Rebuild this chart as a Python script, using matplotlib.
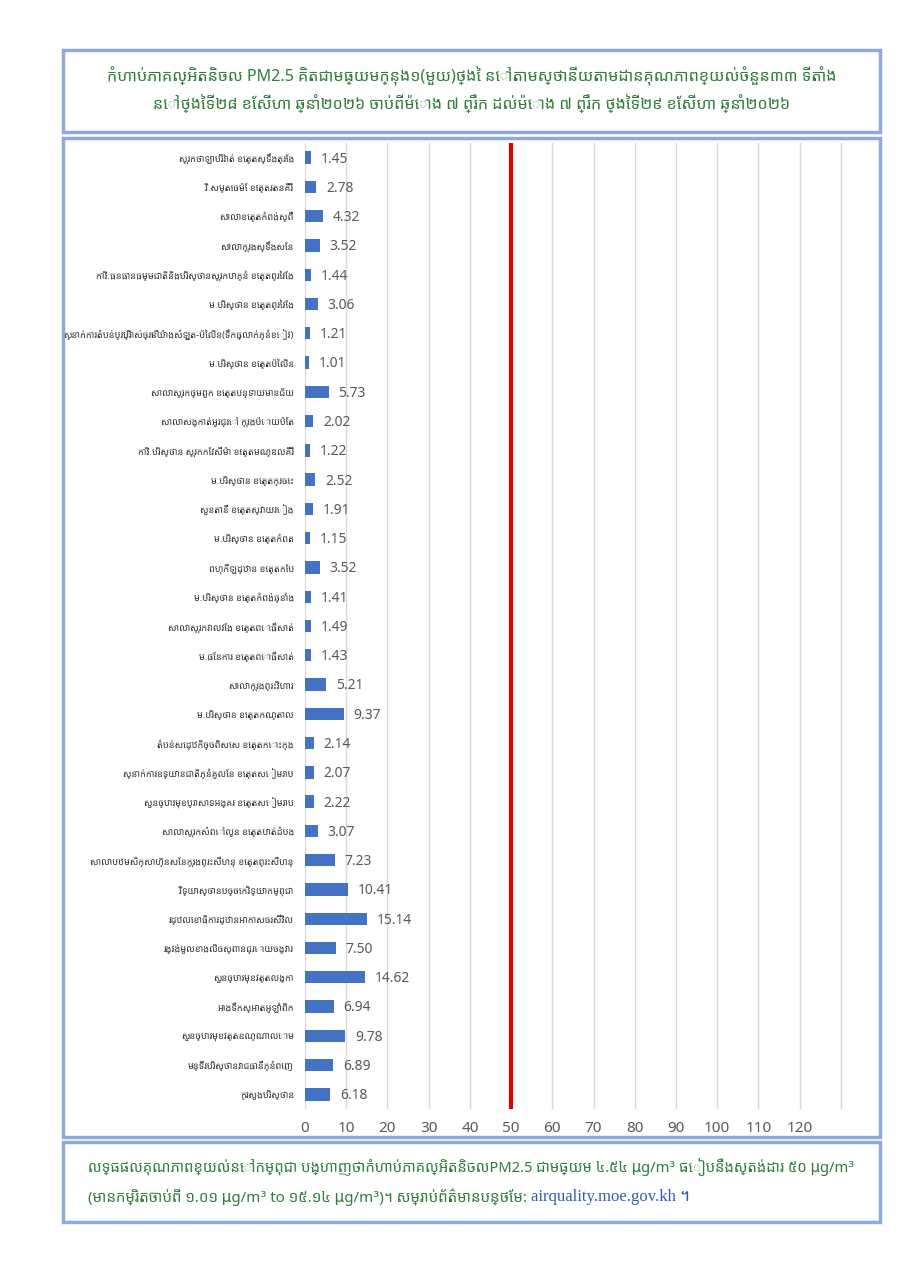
import numpy as np
import matplotlib
matplotlib.use("Agg")
import matplotlib.pyplot as plt
from matplotlib.patches import Rectangle

# fontes: Khmer primeiro, depois DejaVu para o resto
plt.rcParams["font.family"] = ["Noto Sans Khmer", "Khmer OS", "Khmer OS System",
                               "Hanuman", "Battambang", "DejaVu Sans"]

# ---- dados (de cima para baixo) ----
estacoes = [
    "ស្រុកថាឡាបរិវ៉ាត់ ខេត្តស្ទឹងត្រែង",
    "វិ.សម្តេចម៉ែ ខេត្តរតនគិរី",
    "សាលាខេត្តកំពង់ស្ពឺ",
    "សាលាក្រុងស្ទឹងសែន",
    "កាវិ.ធនធានធម្មជាតិនិងបរិស្ថានស្រុកបាភ្នំ ខេត្តព្រៃវែង",
    "ម.បរិស្ថាន ខេត្តព្រៃវែង",
    "ស្នាក់ការតំបន់ប្រើប្រាស់ច្រើនយ៉ាងសំឡូត-ប៉ៃលិន(ទឹកធ្លាក់ភ្នំខៀវ)",
    "ម.បរិស្ថាន ខេត្តប៉ៃលិន",
    "សាលាស្រុកថ្មពួក ខេត្តបន្ទាយមានជ័យ",
    "សាលាសង្កាត់អូរជ្រៅ ក្រុងប៉ោយប៉ែត",
    "កាវិ.បរិស្ថាន ស្រុកកែវសីម៉ា ខេត្តមណ្ឌលគិរី",
    "ម.បរិស្ថាន ខេត្តក្រចេះ",
    "សួនតានី ខេត្តស្វាយរៀង",
    "ម.បរិស្ថាន ខេត្តកំពត",
    "ពហុកីឡដ្ឋាន ខេត្តកែប",
    "ម.បរិស្ថាន ខេត្តកំពង់ឆ្នាំង",
    "សាលាស្រុកវាលវែង ខេត្តពោធិ៍សាត់",
    "ម.ផែនការ ខេត្តពោធិ៍សាត់",
    "សាលាក្រុងព្រះវិហារ",
    "ម.បរិស្ថាន ខេត្តកណ្តាល",
    "តំបន់សេដ្ឋកិច្ចពិសេស ខេត្តកោះកុង",
    "ស្នាក់ការឧទ្យានជាតិភ្នំគូលែន ខេត្តសៀមរាប",
    "សួនច្បារមុខប្រាសាទអង្គរ ខេត្តសៀមរាប",
    "សាលាស្រុកសំពៅលូន ខេត្តបាត់ដំបង",
    "សាលាបឋមសិក្សាហ៊ុនសែនក្រុងព្រះសីហនុ ខេត្តព្រះសីហនុ",
    "វិទ្យាស្ថានបច្ចេកវិទ្យាកម្ពុជា",
    "រដ្ឋលេខាធិការដ្ឋានអាកាសចរស៊ីវិល",
    "រង្វង់មូលខាងលិចស្ពានជ្រោយចង្វារ",
    "សួនច្បារមុខវត្តលង្កា",
    "អាងទឹកស្អាតអូឡាំពិក",
    "សួនច្បារមុខវត្តឧណ្ណាលោម",
    "មន្ទីរបរិស្ថានរាជធានីភ្នំពេញ",
    "ក្រសួងបរិស្ថាន",
]
pm25 = [1.45, 2.78, 4.32, 3.52, 1.44, 3.06, 1.21, 1.01, 5.73, 2.02, 1.22,
        2.52, 1.91, 1.15, 3.52, 1.41, 1.49, 1.43, 5.21, 9.37, 2.14, 2.07,
        2.22, 3.07, 7.23, 10.41, 15.14, 7.50, 14.62, 6.94, 9.78, 6.89, 6.18]
padrao = 50
ticks_x = list(range(0, 140, 10))
rotulos_x = [str(t) if t <= 120 else "" for t in ticks_x]

titulo_l1 = ("កំហាប់ភាគល្អិតនិចល PM2.5 គិតជាមធ្យមក្នុង១(មួយ)ថ្ងៃ "
             "នៅតាមស្ថានីយតាមដានគុណភាពខ្យល់ចំនួន៣៣ ទីតាំង")
titulo_l2 = ("នៅថ្ងៃទី២៨ ខែសីហា ឆ្នាំ២០២៦ ចាប់ពីម៉ោង ៧ ព្រឹក "
             "ដល់ម៉ោង ៧ ព្រឹក ថ្ងៃទី២៩ ខែសីហា ឆ្នាំ២០២៦")
rodape_l1 = ("លទ្ធផលគុណភាពខ្យល់នៅកម្ពុជា បង្ហាញថាកំហាប់ភាគល្អិតនិចលPM2.5 "
             "ជាមធ្យម ៤.៥៤ µg/m³ ធៀបនឹងស្តង់ដារ ៥០ µg/m³")
rodape_l2 = "(មានកម្រិតចាប់ពី ១.០១ µg/m³ to ១៥.១៤ µg/m³)។ សម្រាប់ព័ត៌មានបន្ថែម: "
rodape_url = "airquality.moe.gov.kh ។"

VERDE = "#2E7D3A"
AZUL_BORDA = "#8EAADB"
W, H = 905, 1280


def caixa_px(x0, y0, x1, y1):
    """converte retangulo em pixels (origem no topo) para coords de figura"""
    return [x0 / W, 1 - y1 / H, (x1 - x0) / W, (y1 - y0) / H]


fig = plt.figure(figsize=(W / 100, H / 100), dpi=100)
fig.patch.set_facecolor("white")

# molduras
for x0, y0, x1, y1 in [(63, 50, 880, 132), (63, 138, 880, 1137), (63, 1142, 880, 1222)]:
    l, b, w, h = caixa_px(x0, y0, x1, y1)
    fig.patches.append(Rectangle((l, b), w, h, transform=fig.transFigure,
                                 fill=False, ec=AZUL_BORDA, lw=2.5, zorder=5))

# grafico de barras
ax = fig.add_axes(caixa_px(305, 143, 878, 1109))
y = np.arange(len(estacoes))
ax.barh(y, pm25, height=0.42, color="#4472C4", zorder=3)
for yi, v in zip(y, pm25):
    ax.annotate(f"{v:.2f}", xy=(v, yi), xytext=(7, -1), textcoords="offset points",
                va="center", ha="left", fontsize=10, color="#595959", zorder=4)

ax.axvline(padrao, color="#E00000", lw=3, zorder=4)

ax.set_ylim(len(estacoes) - 0.5, -0.5)
ax.set_yticks(y)
ax.set_yticklabels(estacoes, fontsize=6.6, color="#333333")
ax.set_xlim(0, 139)
ax.set_xticks(ticks_x)
ax.set_xticklabels(rotulos_x, fontsize=11, color="#595959")
ax.tick_params(length=0)
ax.tick_params(axis="x", pad=9)
ax.tick_params(axis="y", pad=8)
ax.grid(axis="x", color="#D9D9D9", lw=1, zorder=0)
for s in ax.spines.values():
    s.set_visible(False)

# titulo
centro = (63 + 880) / 2 / W
fig.text(centro, 1 - 76 / H, titulo_l1, ha="center", va="center",
         fontsize=11.6, color=VERDE)
fig.text(centro, 1 - 104 / H, titulo_l2, ha="center", va="center",
         fontsize=11.6, color=VERDE)

# rodape
fig.text(88 / W, 1 - 1167 / H, rodape_l1, ha="left", va="center",
         fontsize=10.6, color=VERDE)
t2 = fig.text(88 / W, 1 - 1197 / H, rodape_l2, ha="left", va="center",
              fontsize=10.8, color=VERDE)
url = plt.annotate(rodape_url, xy=(1, 0.5), xycoords=t2, va="center", ha="left",
                   fontsize=12, color="#2F5BB7",
                   family=["Liberation Serif", "Noto Sans Khmer", "DejaVu Serif"],
                   annotation_clip=False)
url.remove()
fig.add_artist(url)

fig.savefig("out.png", dpi=100, facecolor="white")
